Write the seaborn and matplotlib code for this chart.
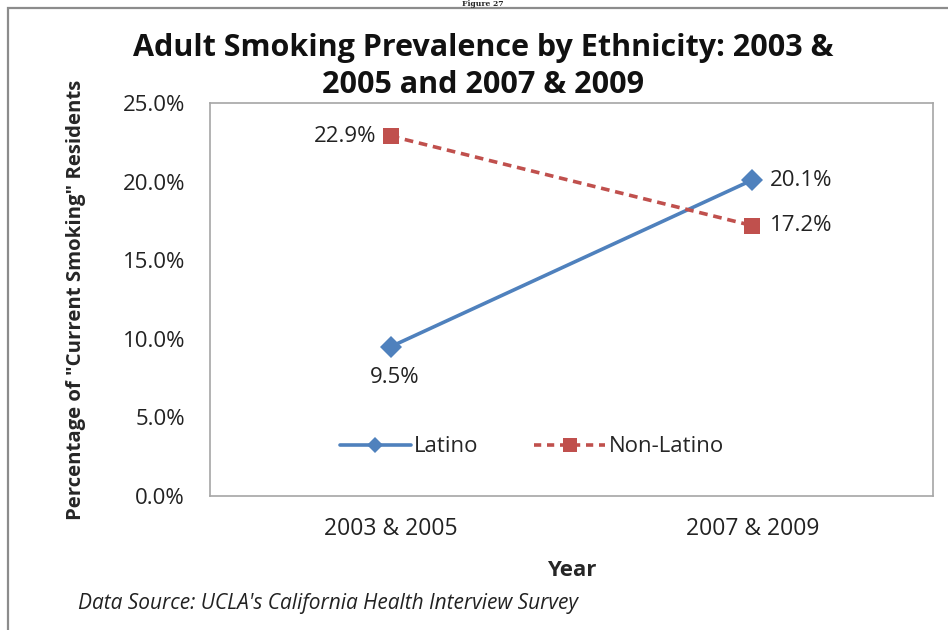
import matplotlib
matplotlib.use("Agg")
import matplotlib.pyplot as plt
import matplotlib.ticker as mticker
from matplotlib.patches import Rectangle
from matplotlib.lines import Line2D
import seaborn as sns
import pandas as pd

# Data
periods = ["2003 & 2005", "2007 & 2009"]
latino = [0.095, 0.201]
non_latino = [0.229, 0.172]
groups = ["Latino", "Non-Latino"]
y_ticks = [0.0, 0.05, 0.10, 0.15, 0.20, 0.25]
title_lines = ["Adult Smoking Prevalence by Ethnicity: 2003 &", "2005 and 2007 & 2009"]

BLUE = "#4F81BD"
RED = "#C0504D"
TEXT = "#222222"

df = pd.DataFrame({
    "Year": periods * 2,
    "Value": latino + non_latino,
    "Group": [groups[0]] * 2 + [groups[1]] * 2,
})

sns.set_theme(style="white")
plt.rcParams["font.family"] = ["Open Sans", "DejaVu Sans"]

fig = plt.figure(figsize=(9.48, 6.30), dpi=100)
ax = fig.add_axes([210 / 948, 1 - 496 / 630, 723 / 948, 393 / 630])

sns.lineplot(
    data=df, x="Year", y="Value", hue="Group", style="Group",
    palette={groups[0]: BLUE, groups[1]: RED},
    markers={groups[0]: "D", groups[1]: "s"},
    dashes={groups[0]: "", groups[1]: (2.4, 1.6)},
    markersize=11, linewidth=2.6, markeredgewidth=0,
    sort=False, legend=False, ax=ax,
)

ax.set_xlim(-0.5, 1.5)
ax.set_ylim(0, 0.25)
ax.set_yticks(y_ticks)
ax.yaxis.set_major_formatter(mticker.PercentFormatter(1.0, decimals=1))
ax.tick_params(axis="y", length=0, pad=18, labelsize=16, labelcolor=TEXT)
ax.tick_params(axis="x", length=0, pad=15, labelsize=16.5, labelcolor=TEXT)

for s in ax.spines.values():
    s.set_color("#A6A6A6")
    s.set_linewidth(1.2)

ax.set_xlabel("Year", fontsize=16, fontweight="bold", labelpad=14)
ax.set_ylabel('Percentage of "Current Smoking" Residents', fontsize=14.7,
              fontweight="bold", labelpad=26)

# Value labels
fs_val = 16
label_fmt = "{:.1%}"
ax.annotate(label_fmt.format(non_latino[0]), (0, non_latino[0]), xytext=(-10, 0),
            textcoords="offset points", ha="right", va="center", fontsize=fs_val, color=TEXT)
ax.annotate(label_fmt.format(latino[0]), (0, latino[0]), xytext=(3, -22),
            textcoords="offset points", ha="center", va="center", fontsize=fs_val, color=TEXT)
ax.annotate(label_fmt.format(latino[1]), (1, latino[1]), xytext=(13, 0),
            textcoords="offset points", ha="left", va="center", fontsize=fs_val, color=TEXT)
ax.annotate(label_fmt.format(non_latino[1]), (1, non_latino[1]), xytext=(13, 0),
            textcoords="offset points", ha="left", va="center", fontsize=fs_val, color=TEXT)

handles = [
    Line2D([], [], color=BLUE, lw=2.6, marker="D", markersize=8, markeredgewidth=0),
    Line2D([], [], color=RED, lw=2.6, marker="s", markersize=10, markeredgewidth=0,
           dashes=(2.0, 1.6)),
]
ax.legend(handles, groups, loc="center", bbox_to_anchor=(0.445, 0.125), ncol=2,
          frameon=False, fontsize=16, handlelength=3.2, handletextpad=0.15,
          columnspacing=2.5)

# Two-line chart title
for line, baseline_px in zip(title_lines, [56, 93]):
    fig.text(483 / 948, 1 - baseline_px / 630, line, ha="center", va="baseline",
             fontsize=22, fontweight="bold", color="#111111")

fig.text(78 / 948, 1 - 604 / 630, "Data Source: UCLA's California Health Interview Survey",
         fontsize=15, style="italic", color=TEXT, va="center")

fig.text(483 / 948, 1 - 0.5 / 630, "Figure 27", fontsize=5.5, fontweight="bold",
         ha="center", va="top", family=["DejaVu Serif"])

# Outer chart frame
fig.patches.append(Rectangle((8 / 948, -0.1), 1.1, 1 - 8 / 630 + 0.1,
                             transform=fig.transFigure, fill=False,
                             edgecolor="#8C8C8C", linewidth=1.6))

fig.savefig("out.png", dpi=100)
